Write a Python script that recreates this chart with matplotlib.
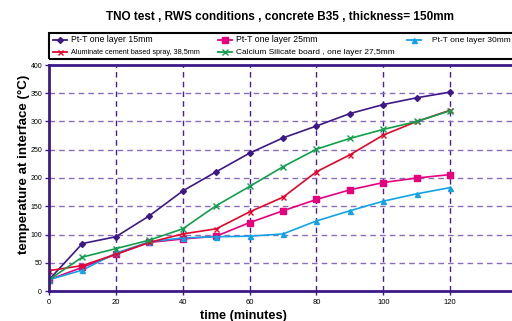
import matplotlib
matplotlib.use("Agg")
import matplotlib.pyplot as plt
from matplotlib.lines import Line2D

plt.rcParams['font.family'] = ['Liberation Sans', 'DejaVu Sans']

# data
time_min = [0, 10, 20, 30, 40, 50, 60, 70, 80, 90, 100, 110, 120]
ptt_15 = [20, 84, 96, 133, 177, 211, 244, 271, 292, 314, 330, 342, 352]
ptt_25 = [20, 42, 65, 86, 92, 97, 121, 142, 162, 179, 192, 200, 206]
ptt_30 = [20, 37, 67, 87, 94, 96, 97, 101, 124, 142, 159, 172, 183]
aluminate = [36, 45, 65, 86, 101, 110, 140, 166, 211, 241, 276, 300, 320]
calsil = [20, 60, 75, 90, 110, 151, 185, 220, 251, 270, 286, 300, 319]

labels = ["Pt-T one layer 15mm", "Pt-T one layer 25mm", "Pt-T one layer 30mm",
          "Aluminate cement based spray, 38,5mm",
          "Calcium Silicate board , one layer 27,5mm"]

purple = "#3d1887"
W, H = 512, 321

fig = plt.figure(figsize=(W / 100, H / 100), dpi=100)
ax = fig.add_axes([49 / W, 30 / H, 463 / W, 226 / H])

styles = [
    (ptt_15, dict(color="#3d1887", marker="D", ms=3.0, lw=1.2)),
    (ptt_25, dict(color="#e6007e", marker="s", ms=4.2, lw=1.2)),
    (ptt_30, dict(color="#12a3e6", marker="^", ms=3.6, lw=1.2)),
    (aluminate, dict(color="#e3062a", marker="x", ms=3.6, mew=1.0, lw=1.2)),
    (calsil, dict(color="#10a04c", marker="x", ms=4.0, mew=1.0, lw=1.2)),
]
handles = []
for vals, st in styles:
    h, = ax.plot(time_min, vals, **st)
    handles.append(h)

ax.set_xlim(0, 138.5)
ax.set_ylim(0, 400)
ax.set_xticks(range(0, 121, 20))
ax.set_yticks(range(0, 401, 50))
ax.tick_params(axis="both", direction="out", length=3, width=1, color=purple,
               labelsize=5, pad=2)
ax.tick_params(axis="x", labelsize=5.5, pad=3)

for x in range(20, 121, 20):
    ax.axvline(x, color="#4a1f99", lw=1.0, ls=(0, (4, 3)), zorder=0)
for y in range(50, 351, 50):
    ax.axhline(y, color="#8a6cbd", lw=1.0, ls=(0, (4, 3)), zorder=0)

for side in ["left", "bottom", "top"]:
    ax.spines[side].set_color(purple)
    ax.spines[side].set_linewidth(2)
ax.spines["right"].set_visible(False)

ax.set_xlabel("time (minutes)", fontsize=9.2, fontweight="bold")
ax.xaxis.set_label_coords(0.419, -0.086)
ax.set_ylabel("temperature at interface (°C)", fontsize=9.6, fontweight="bold")
ax.yaxis.set_label_coords(-0.04, 0.56)

fig.text(280 / W, 1 - 17 / H, "TNO test , RWS conditions , concrete B35 , thickness= 150mm",
         ha="center", va="center", fontsize=8.5, fontweight="bold")

# legend box drawn by hand to match the layout
box = plt.Rectangle((49 / W, 1 - 59 / H), 470 / W, 26 / H, transform=fig.transFigure,
                    fill=False, ec="black", lw=1.5)
fig.add_artist(box)
positions = [(53, 40), (218, 40), (407, 40), (53, 52), (218, 52)]
sizes = [6.3, 6.3, 6.0, 5.2, 6.0]
for h, lab, (px, py), fs in zip(handles, labels, positions, sizes):
    yy = 1 - py / H
    ln = Line2D([px / W, (px + 14) / W], [yy, yy], transform=fig.transFigure,
                color=h.get_color(), lw=1.3)
    mk = Line2D([(px + 7) / W], [yy], transform=fig.transFigure,
                color=h.get_color(), marker=h.get_marker(), ms=h.get_markersize(),
                mew=h.get_markeredgewidth(), ls="none")
    fig.add_artist(ln)
    fig.add_artist(mk)
    tx = px + 18 if px != 407 else px + 25
    fig.text(tx / W, yy, lab, fontsize=fs, va="center", ha="left")

fig.savefig("out.png", dpi=100)
